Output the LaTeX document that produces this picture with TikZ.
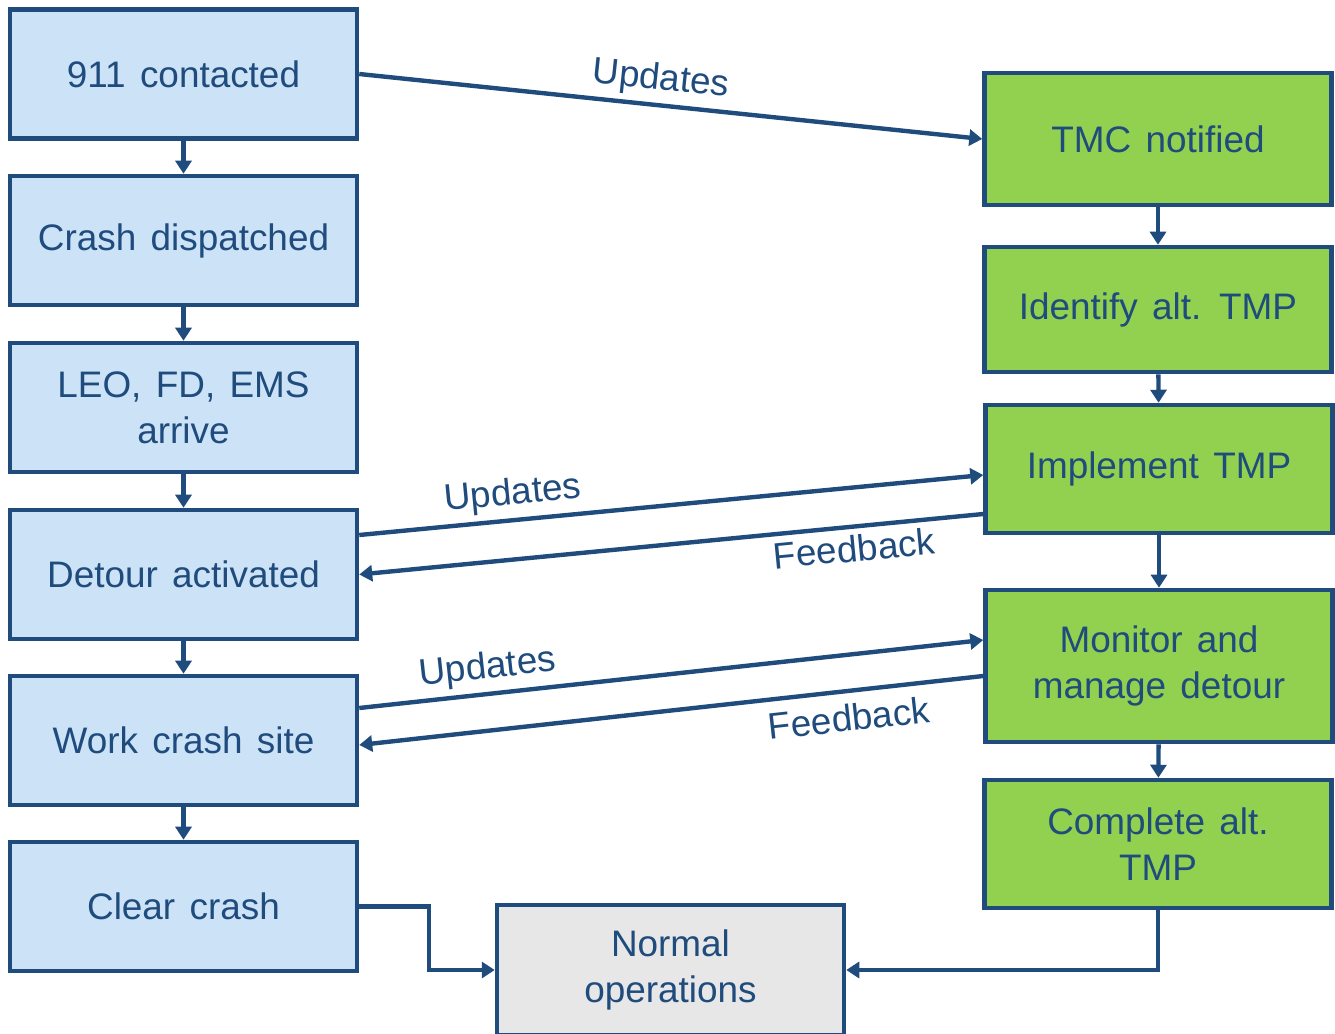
\documentclass[tikz,border=0pt]{standalone}
\usepackage{fontspec}
\setmainfont{Liberation Sans}[WordSpace=1.4]
\usetikzlibrary{arrows.meta, calc}
\definecolor{flowblue}{RGB}{31,75,125}
\definecolor{leftfill}{RGB}{204,226,246}
\definecolor{rightfill}{RGB}{146,208,80}
\definecolor{endfill}{RGB}{231,231,231}

\begin{document}
\begin{tikzpicture}[x=0.02cm, y=-0.02cm,
  stepbox/.style={draw=flowblue, line width=2.6pt, minimum width=6.94cm,
    minimum height=2.58cm, align=center, text=flowblue,
    font=\fontsize{21}{26}\selectfont},
  leftbox/.style={stepbox, fill=leftfill},
  rightbox/.style={stepbox, fill=rightfill},
  flow/.style={draw=flowblue, line width=2.5pt,
    -{Triangle[length=0.26cm, width=0.32cm]}},
  msg/.style={text=flowblue, font=\fontsize{21}{26}\selectfont, sloped}]
  \useasboundingbox (0,0) rectangle (1335,1034);

  % incident side
  \node[leftbox] (contact)  at (183.5,74)    {911 contacted};
  \node[leftbox] (dispatch) at (183.5,240.5) {Crash dispatched};
  \node[leftbox] (arrive)   at (183.5,407.5) {LEO, FD, EMS\\arrive};
  \node[leftbox] (detour)   at (183.5,574.5) {Detour activated};
  \node[leftbox] (work)     at (183.5,740.5) {Work crash site};
  \node[leftbox] (clear)    at (183.5,906.5) {Clear crash};

  % TMC side
  \node[rightbox, minimum height=2.64cm] (tmc)       at (1158,139)   {TMC notified};
  \node[rightbox, minimum height=2.5cm]  (identify)  at (1158,309.5) {Identify alt. TMP};
  \node[rightbox, minimum height=2.56cm] (implement) at (1159,469)   {Implement TMP};
  \node[rightbox, minimum height=3.04cm] (monitor)   at (1159,666)   {Monitor and\\manage detour};
  \node[rightbox, minimum height=2.56cm] (complete)  at (1158,844)   {Complete alt.\\TMP};

  \node[stepbox, fill=endfill, minimum height=2.6cm] (normal) at (670.5,970) {Normal\\operations};

  \draw[flow] (contact) -- (dispatch);
  \draw[flow] (dispatch) -- (arrive);
  \draw[flow] (arrive) -- (detour);
  \draw[flow] (detour) -- (work);
  \draw[flow] (work) -- (clear);

  \draw[flow] (tmc) -- (identify);
  \draw[flow] (identify) -- (implement);
  \draw[flow] (implement) -- (monitor);
  \draw[flow] (monitor) -- (complete);

  \draw[flow] (contact.east) -- node[msg, above, pos=0.48] {Updates} (tmc.west);
  \draw[flow] ($(detour.east)+(0,-39.5)$) -- node[msg, above, pos=0.25] {Updates}
    ($(implement.west)+(0,6)$);
  \draw[flow] ($(implement.west)+(0,45)$) -- node[msg, below, pos=0.21] {Feedback}
    (detour.east);
  \draw[flow] ($(work.east)+(0,-32.5)$) -- node[msg, above, pos=0.21] {Updates}
    ($(monitor.west)+(0,-26)$);
  \draw[flow] ($(monitor.west)+(0,10)$) -- node[msg, below=3pt, pos=0.22] {Feedback}
    ($(work.east)+(0,4.5)$);

  \draw[flow] (clear.east) -- ++(70,0) |- (normal.west);
  \draw[flow] (complete.south) |- (normal.east);
\end{tikzpicture}
\end{document}
